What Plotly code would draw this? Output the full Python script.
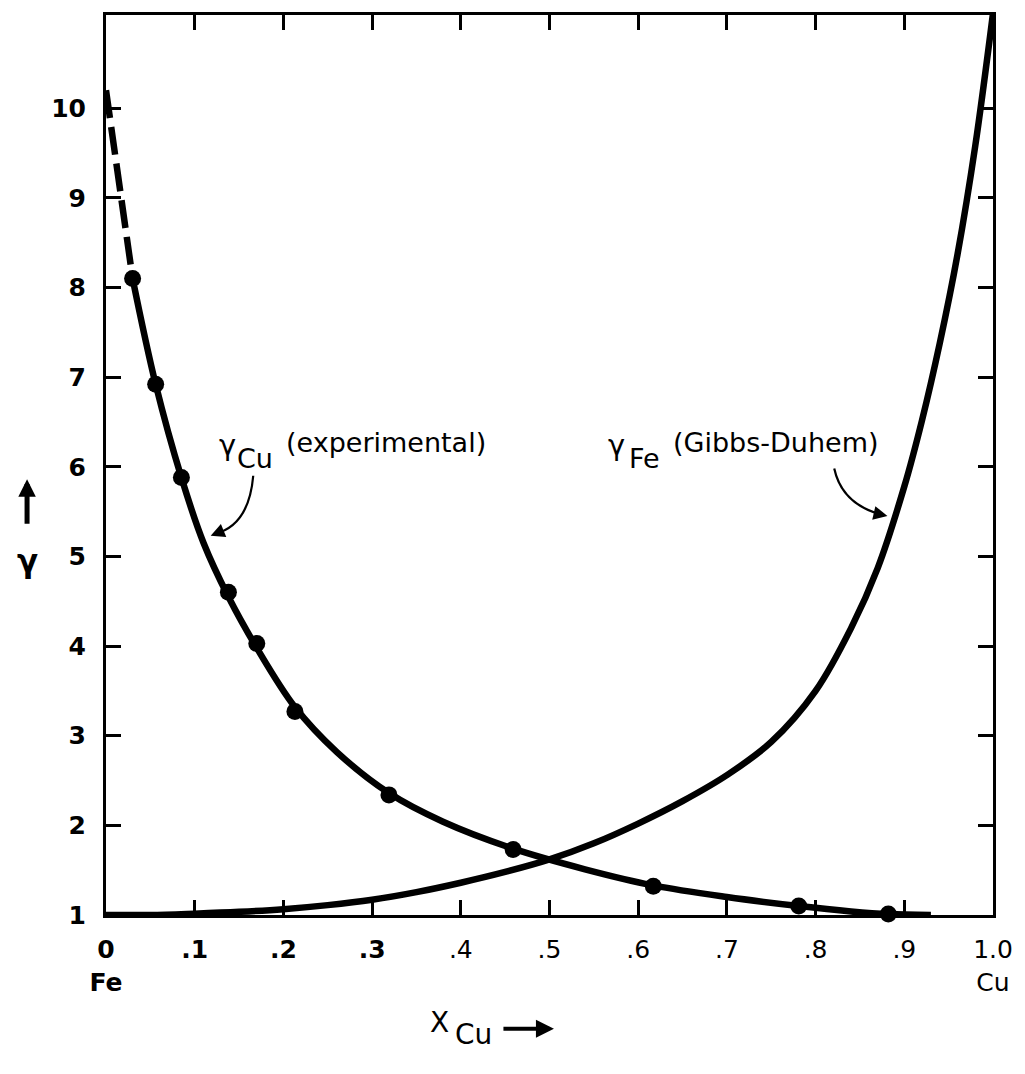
import plotly.graph_objects as go

# Activity coefficient of Cu in Fe-Cu melts (measured points)
x_cu_meas = [0.030, 0.056, 0.085, 0.138, 0.170, 0.213, 0.319, 0.459, 0.617, 0.781, 0.882]
gamma_cu_meas = [8.10, 6.92, 5.88, 4.60, 4.03, 3.27, 2.34, 1.73, 1.32, 1.10, 1.01]

# Smooth curve drawn through the measured points
x_cu_curve = [0.030, 0.056, 0.085, 0.110, 0.138, 0.170, 0.213, 0.260, 0.319, 0.380,
              0.459, 0.540, 0.617, 0.700, 0.781, 0.840, 0.882, 0.930]
gamma_cu_curve = [8.10, 6.92, 5.88, 5.15, 4.55, 3.98, 3.32, 2.82, 2.36, 2.04,
                  1.74, 1.51, 1.33, 1.20, 1.10, 1.04, 1.01, 1.00]

# Extrapolation of gamma_Cu towards pure Fe
x_cu_extrap = [0.0, 0.030]
gamma_cu_extrap = [10.2, 8.10]

# Activity coefficient of Fe from Gibbs-Duhem integration
x_fe_curve = [0.0, 0.05, 0.10, 0.15, 0.20, 0.25, 0.30, 0.35, 0.40, 0.45, 0.50, 0.55,
              0.60, 0.65, 0.70, 0.75, 0.80, 0.84, 0.87, 0.90, 0.92, 0.94, 0.96,
              0.98, 1.0]
gamma_fe_curve = [1.00, 1.00, 1.015, 1.035, 1.065, 1.11, 1.17, 1.255, 1.36, 1.48, 1.62, 1.80,
                  2.02, 2.27, 2.56, 2.93, 3.50, 4.20, 4.87, 5.78, 6.52, 7.38, 8.37,
                  9.58, 11.06]

# Axis ticks
x_tickvals = [0, 0.1, 0.2, 0.3, 0.4, 0.5, 0.6, 0.7, 0.8, 0.9, 1.0]
x_ticktext = ["<b>0</b><br><b>Fe</b>", "<b>.1</b>", "<b>.2</b>", "<b>.3</b>", ".4", ".5",
              ".6", ".7", ".8", ".9", "1.0<br>Cu"]
y_tickvals = [1, 2, 3, 4, 5, 6, 7, 8, 9, 10]
y_ticktext = ["1", "2", "3", "4", "5", "6", "7", "8", "9", "10"]

FONT = "DejaVu Sans"
INK = "black"

fig = go.Figure()

fig.add_trace(go.Scatter(
    x=x_cu_extrap, y=gamma_cu_extrap, mode="lines",
    line=dict(color=INK, width=6.5, dash="28px,9px"),
    showlegend=False, hoverinfo="skip", cliponaxis=False,
))
fig.add_trace(go.Scatter(
    x=x_cu_curve, y=gamma_cu_curve, mode="lines",
    line=dict(color=INK, width=6.5, shape="spline", smoothing=1.0),
    showlegend=False, hoverinfo="skip",
))
fig.add_trace(go.Scatter(
    x=x_fe_curve, y=gamma_fe_curve, mode="lines",
    line=dict(color=INK, width=6.5, shape="spline", smoothing=1.0),
    showlegend=False, hoverinfo="skip",
))
fig.add_trace(go.Scatter(
    x=x_cu_meas, y=gamma_cu_meas, mode="markers",
    marker=dict(color=INK, size=17, symbol="circle"),
    showlegend=False, cliponaxis=False,
))

annotations = []

def label(x, y, text, size, xref="x", yref="y", bold=False):
    annotations.append(dict(
        x=x, y=y, xref=xref, yref=yref, text=(f"<b>{text}</b>" if bold else text),
        showarrow=False, xanchor="center", yanchor="middle",
        font=dict(family=FONT, size=size, color=INK),
    ))

# gamma_Cu label
label(0.137, 6.245, "γ", 29)
label(0.1685, 6.09, "Cu", 27)
label(0.316, 6.27, "(experimental)", 27)
# gamma_Fe label
label(0.575, 6.245, "γ", 29)
label(0.607, 6.09, "Fe", 27)
label(0.755, 6.27, "(Gibbs-Duhem)", 27)

# small arrowheads at the ends of the curved leaders
for tip_x, tip_y, ax, ay in [(0.118, 5.23, 12, -5), (0.881, 5.45, -13, -3)]:
    annotations.append(dict(
        x=tip_x, y=tip_y, xref="x", yref="y", text="", showarrow=True,
        ax=ax, ay=ay, arrowhead=2, arrowsize=1.4, arrowwidth=2, arrowcolor=INK,
        standoff=0,
    ))

# y-axis title: upward arrow above gamma
annotations.append(dict(
    x=-0.089, y=5.86, xref="paper", yref="y", text="", showarrow=True,
    ax=0, ay=46, arrowhead=2, arrowsize=0.7, arrowwidth=5, arrowcolor=INK,
))
label(-0.089, 4.95, "γ", 31, xref="paper", yref="y", bold=True)

# x-axis title: X_Cu followed by an arrow
label(0.376, -0.1197, "X", 28, xref="paper", yref="paper")
label(0.414, -0.133, "Cu", 28, xref="paper", yref="paper")
annotations.append(dict(
    x=0.505, y=-0.1264, xref="paper", yref="paper", text="", showarrow=True,
    ax=-52, ay=0, arrowhead=2, arrowsize=0.9, arrowwidth=4, arrowcolor=INK,
))

shapes = [
    # curved leader from the gamma_Cu label to its curve
    dict(type="path", xref="x", yref="y",
         path="M 0.166,5.90 Q 0.161,5.34 0.122,5.25",
         line=dict(color=INK, width=2.2)),
    # curved leader from the gamma_Fe label to its curve
    dict(type="path", xref="x", yref="y",
         path="M 0.821,5.98 Q 0.830,5.57 0.877,5.46",
         line=dict(color=INK, width=2.2)),
]

axis_common = dict(
    showgrid=False, zeroline=False, showline=True, linewidth=3, linecolor=INK,
    mirror="ticks", ticks="inside", ticklen=15, tickwidth=2.5, tickcolor=INK,
)

fig.update_layout(
    width=1025, height=1074,
    margin=dict(l=106, r=23, t=13, b=159),
    paper_bgcolor="white", plot_bgcolor="white",
    xaxis=dict(
        range=[0, 1.0], tickmode="array", tickvals=x_tickvals, ticktext=x_ticktext,
        tickfont=dict(family=FONT, size=25, color=INK), ticklabelstandoff=10,
        **axis_common,
    ),
    yaxis=dict(
        range=[1, 11.04], tickmode="array", tickvals=y_tickvals, ticktext=y_ticktext,
        tickfont=dict(family=FONT, size=25, color=INK, weight="bold"), ticklabelstandoff=12,
        **axis_common,
    ),
    annotations=annotations,
    shapes=shapes,
    showlegend=False,
)

fig.write_html("out.html")
